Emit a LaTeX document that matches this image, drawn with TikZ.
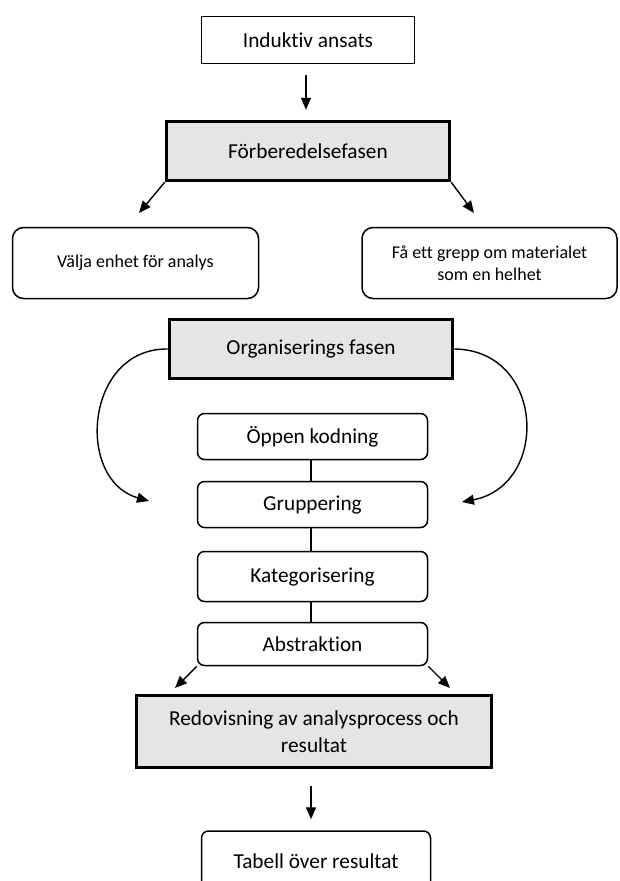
\documentclass[tikz,border=0pt]{standalone}
\usepackage{fontspec}
\setmainfont[Ligatures=NoCommon]{Carlito}
\usetikzlibrary{arrows.meta}
\begin{document}
\begin{tikzpicture}[x=1pt,y=-1pt,
 base/.style={draw=black, inner sep=0pt, align=center, text=black, font=\fontsize{21.3}{27}\selectfont},
 plainbox/.style={base, line width=1.5pt},
 phase/.style={base, line width=3.5pt, fill=black!10},
 stepbox/.style={base, line width=1.5pt, rounded corners=7pt},
 sidebox/.style={base, line width=1.5pt, rounded corners=11pt, font=\fontsize{18}{22}\selectfont},
 arr/.style={line width=1.4pt, -{Triangle[length=12pt,width=10pt]}},
 link/.style={line width=1.3pt}]
\useasboundingbox (0,0) rectangle (619,881);
\clip (0,0) rectangle (619,881);

\node[plainbox, minimum width=213pt, minimum height=47pt] (ind) at (308,40) {Induktiv ansats};
\node[phase, minimum width=283pt, minimum height=59pt] (forb) at (308,151) {Förberedelsefasen};
\node[sidebox, minimum width=246pt, minimum height=71pt] (valja) at (135.5,263) {Välja enhet för analys};
\node[sidebox, minimum width=255pt, minimum height=71pt] (faa) at (489.5,263) {Få ett grepp om materialet\\som en helhet};
\node[phase, minimum width=283pt, minimum height=59pt] (org) at (311,349) {Organiserings fasen};
\node[stepbox, minimum width=230pt, minimum height=46pt] (opp) at (312.5,436.5) {Öppen kodning};
\node[stepbox, minimum width=230pt, minimum height=46pt] (grp) at (312.5,504.5) {Gruppering};
\node[stepbox, minimum width=230pt, minimum height=50pt] (kat) at (312.5,576.5) {Kategorisering};
\node[stepbox, minimum width=230pt, minimum height=43pt] (abs) at (312.5,644) {Abstraktion};
\node[phase, minimum width=355pt, minimum height=72pt] (red) at (314,731.5) {Redovisning av analysprocess och\\resultat};
\node[stepbox, minimum width=229pt, minimum height=60pt] (tab) at (316,861) {Tabell över resultat};

\coordinate (fl) at (139,213);
\coordinate (fr) at (474,213);
\coordinate (cl) at (149,501);
\coordinate (cr) at (462,502);
\coordinate (al) at (175,688);
\coordinate (ar) at (450,688);

\draw[arr, shorten <=11pt, shorten >=10pt] ([xshift=-2pt]ind.south) -- ([xshift=-2pt]forb.north);
\draw[arr] (forb.south west) -- (fl);
\draw[arr] (forb.south east) -- (fr);
\draw[arr] (org.west) .. controls (85,348) and (75,480) .. (cl);
\draw[arr] (org.east) .. controls (545,350) and (550,485) .. (cr);
\draw[link] ([xshift=-1.5pt]opp.south) -- ([xshift=-1.5pt]grp.north);
\draw[link] ([xshift=-1.5pt]grp.south) -- ([xshift=-1.5pt]kat.north);
\draw[link] ([xshift=-1.5pt]kat.south) -- ([xshift=-1.5pt]abs.north);
\draw[arr] (abs.south west) -- (al);
\draw[arr] (abs.south east) -- (ar);
\draw[arr, shorten <=17pt, shorten >=11pt] ([xshift=-3pt]red.south) -- ([xshift=-5pt]tab.north);
\end{tikzpicture}
\end{document}
